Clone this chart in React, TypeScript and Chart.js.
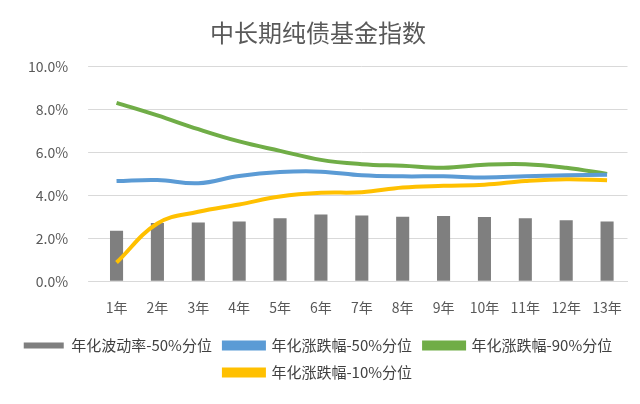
import { useEffect, useRef } from 'react'
import { Chart, registerables } from 'chart.js'
Chart.register(...registerables)

const years = ['1年', '2年', '3年', '4年', '5年', '6年', '7年', '8年', '9年', '10年', '11年', '12年', '13年']
const vol50 = [2.35, 2.72, 2.74, 2.79, 2.94, 3.11, 3.06, 3.01, 3.04, 2.99, 2.94, 2.84, 2.79]
const ret50 = [4.67, 4.72, 4.57, 4.91, 5.09, 5.11, 4.94, 4.89, 4.89, 4.84, 4.89, 4.94, 4.96]
const ret90 = [8.32, 7.73, 7.09, 6.52, 6.08, 5.66, 5.46, 5.38, 5.29, 5.43, 5.46, 5.29, 5.0]
const ret10 = [0.87, 2.69, 3.24, 3.58, 3.95, 4.12, 4.15, 4.37, 4.45, 4.5, 4.67, 4.76, 4.71]

const font = '"Noto Sans CJK SC", "Noto Sans", sans-serif'

export default function App() {
  const ref = useRef<HTMLCanvasElement | null>(null)
  useEffect(() => {
    if (!ref.current) return
    const line = (label: string, data: number[], color: string) => ({
      type: 'line' as const, label, data, borderColor: color, backgroundColor: color,
      borderWidth: 4, pointRadius: 0, tension: 0.4, order: 0
    })
    const chart = new Chart(ref.current, {
      type: 'bar',
      data: {
        labels: years,
        datasets: [
          { type: 'bar', label: '年化波动率-50%分位', data: vol50, backgroundColor: '#7f7f7f', barPercentage: 0.32, categoryPercentage: 1, order: 1 },
          line('年化涨跌幅-50%分位', ret50, '#5b9bd5'),
          line('年化涨跌幅-90%分位', ret90, '#70ad47'),
          line('年化涨跌幅-10%分位', ret10, '#ffc000')
        ] as any
      },
      options: {
        animation: false,
        responsive: false,
        layout: { padding: { left: 0, right: 4, top: 4, bottom: 6 } },
        plugins: {
          title: { display: true, text: '中长期纯债基金指数', color: '#595959', font: { family: font, size: 24, weight: 'normal' }, padding: { top: 6, bottom: 20 } },
          legend: {
            position: 'bottom',
            maxWidth: 430,
            labels: {
              color: '#404040', font: { family: font, size: 15 }, boxWidth: 40, boxHeight: 6, padding: 12,
              sort: (a: any, b: any) => a.datasetIndex - b.datasetIndex
            }
          },
          tooltip: { enabled: false }
        },
        scales: {
          x: { grid: { display: false }, border: { color: '#d9d9d9' }, ticks: { color: '#595959', font: { family: font, size: 14 }, maxRotation: 0, autoSkip: false, padding: 10 } },
          y: {
            min: 0, max: 10,
            grid: { color: '#d9d9d9' }, border: { display: false },
            ticks: { stepSize: 2, color: '#595959', font: { family: font, size: 14 }, padding: 20, callback: (v: any) => Number(v).toFixed(1) + '%' }
          }
        }
      }
    })
    return () => chart.destroy()
  }, [])
  return <canvas ref={ref} width={624} height={388} />
}
